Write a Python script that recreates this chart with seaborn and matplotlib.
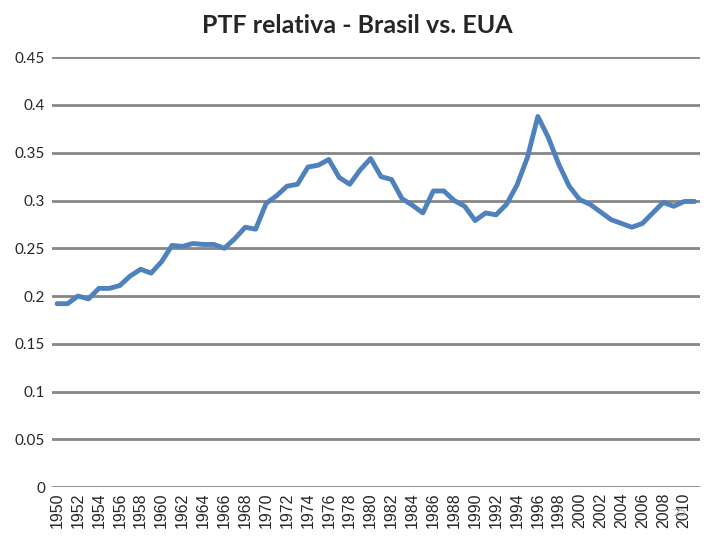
import pandas as pd
import numpy as np
import matplotlib
matplotlib.use("Agg")
import matplotlib.pyplot as plt
import seaborn as sns

# relative TFP Brazil / USA
years = list(range(1950, 2012))
ptf = [0.192, 0.192, 0.200, 0.197, 0.208, 0.208, 0.211, 0.221, 0.228, 0.224,
       0.236, 0.253, 0.252, 0.255, 0.254, 0.254, 0.250, 0.260, 0.272, 0.270,
       0.297, 0.305, 0.315, 0.317, 0.335, 0.337, 0.343, 0.324, 0.317, 0.332,
       0.344, 0.325, 0.322, 0.302, 0.295, 0.287, 0.310, 0.310, 0.300, 0.294,
       0.279, 0.287, 0.285, 0.296, 0.316, 0.345, 0.388, 0.366, 0.338, 0.315,
       0.301, 0.296, 0.288, 0.280, 0.276, 0.272, 0.276, 0.287, 0.298, 0.294,
       0.299, 0.299]
y_ticks = [0, 0.05, 0.1, 0.15, 0.2, 0.25, 0.3, 0.35, 0.4, 0.45]
y_labels = ["0", "0.05", "0.1", "0.15", "0.2", "0.25", "0.3", "0.35", "0.4", "0.45"]

df = pd.DataFrame({"idx": range(len(years)), "ptf": ptf})

sns.set_style("white")
plt.rcParams['font.family'] = ['Lato', 'DejaVu Sans']

fig = plt.figure(figsize=(7.2, 5.4), dpi=100)
ax = fig.add_axes([0.072, 0.098, 0.9, 0.796])

sns.lineplot(data=df, x="idx", y="ptf", color="#4F81BD", linewidth=3.5, ax=ax)

ax.set_xlim(-0.5, len(years) - 0.5)
ax.set_ylim(0, 0.45)
ax.set_yticks(y_ticks)
ax.set_yticklabels(y_labels, fontsize=11)
for y in y_ticks:
    ax.axhline(y, color="#868686", linewidth=2, zorder=0)

# label every 2nd year
ax.set_xticks(range(0, len(years), 2))
ax.set_xticklabels([str(yr) for yr in years[::2]], rotation=90,
                   fontsize=11.5, family=['Liberation Sans', 'DejaVu Sans'])
ax.tick_params(axis='both', length=0, pad=5)
ax.tick_params(axis='x', pad=4)
ax.set_xlabel("")
ax.set_ylabel("")
for s in ax.spines.values():
    s.set_visible(False)

# title centred on the figure, not the axes
fig.text(0.496, 0.953, "PTF relativa - Brasil vs. EUA", fontsize=18,
         fontweight='bold', ha='center', va='center')

fig.text(0.935, 0.045, "25", fontsize=8, color="#A0A0A0")

fig.savefig("out.png", dpi=100)
